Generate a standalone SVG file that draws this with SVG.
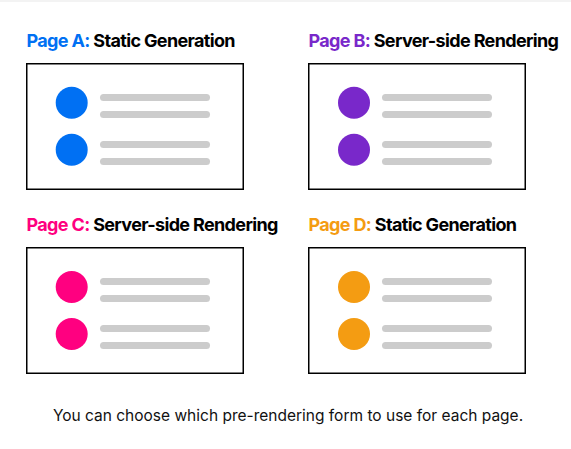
<svg xmlns="http://www.w3.org/2000/svg" width="571" height="449" viewBox="0 0 571 449">
  <style>
    .title { font-family: Inter, "Liberation Sans", sans-serif; font-size: 18px; font-weight: 700; letter-spacing: -0.65px; fill: #000; }
    .frame { fill: #fff; stroke: #000; stroke-width: 1.5; }
    .bar { fill: #cccccc; }
    .caption { font-family: Inter, "Liberation Sans", sans-serif; font-size: 15.5px; fill: #111; }
    .a { fill: #0070f3; }
    .b { fill: #7928ca; }
    .c { fill: #ff0080; }
    .d { fill: #f49c12; }
  </style>
  <defs>
    <!-- list of two rows: two text bars each; dots coloured per page -->
    <g id="rows">
      <rect class="bar" x="74" y="27" width="110" height="7" rx="3.5"/>
      <rect class="bar" x="74" y="44" width="110" height="7" rx="3.5"/>
      <rect class="bar" x="74" y="74" width="110" height="7" rx="3.5"/>
      <rect class="bar" x="74" y="91" width="110" height="7" rx="3.5"/>
    </g>
  </defs>
  <rect x="0" y="0" width="571" height="449" fill="#fff"/>
  <rect x="0" y="0" width="571" height="2" fill="#f3f3f3"/>

  <g id="page-a">
    <text class="title" x="26.5" y="47"><tspan class="a">Page A:</tspan> Static Generation</text>
    <rect class="frame" x="26.75" y="63.75" width="216.5" height="125.5"/>
    <use href="#rows" x="26" y="67"/>
    <circle class="a" cx="71.7" cy="102.7" r="16"/>
    <circle class="a" cx="71.7" cy="149.7" r="16"/>
  </g>

  <g id="page-b">
    <text class="title" x="308.5" y="47"><tspan class="b">Page B:</tspan> Server-side Rendering</text>
    <rect class="frame" x="308.75" y="63.75" width="216.5" height="125.5"/>
    <use href="#rows" x="308" y="67"/>
    <circle class="b" cx="354" cy="102.7" r="16"/>
    <circle class="b" cx="354" cy="149.7" r="16"/>
  </g>

  <g id="page-c">
    <text class="title" x="26.5" y="230.5"><tspan class="c">Page C:</tspan> Server-side Rendering</text>
    <rect class="frame" x="26.75" y="247.75" width="216.5" height="125.5"/>
    <use href="#rows" x="26" y="251"/>
    <circle class="c" cx="71.7" cy="287" r="16"/>
    <circle class="c" cx="71.7" cy="334" r="16"/>
  </g>

  <g id="page-d">
    <text class="title" x="308.5" y="230.5"><tspan class="d">Page D:</tspan> Static Generation</text>
    <rect class="frame" x="308.75" y="247.75" width="216.5" height="125.5"/>
    <use href="#rows" x="308" y="251"/>
    <circle class="d" cx="354" cy="287" r="16"/>
    <circle class="d" cx="354" cy="334" r="16"/>
  </g>

  <g id="connectors"/>

  <text class="caption" x="288" y="420.5" text-anchor="middle">You can choose which pre-rendering form to use for each page.</text>
</svg>
